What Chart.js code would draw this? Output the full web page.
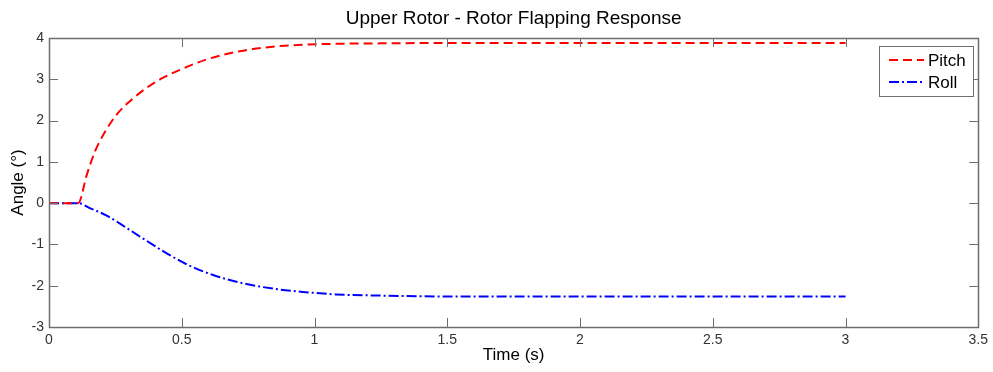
<!DOCTYPE html>
<html>
<head>
<meta charset="utf-8">
<script src="https://cdn.jsdelivr.net/npm/chart.js@4/dist/chart.umd.min.js"></script>
<style>
  html, body { margin: 0; padding: 0; background: #fff; }
  #wrap { width: 993px; height: 372px; position: relative; }
</style>
</head>
<body>
<div id="wrap"><canvas id="myChart"></canvas></div>
<script>
// values
const chartTitle = 'Upper Rotor - Rotor Flapping Response'
const xTicks = [0, 0.5, 1, 1.5, 2, 2.5, 3, 3.5]
const yTicks = [-3, -2, -1, 0, 1, 2, 3, 4]

const pitchTime = [0, 0.05, 0.11, 0.142, 0.173, 0.204, 0.254, 0.305, 0.367, 0.43, 0.505, 0.593, 0.718, 0.843, 0.969, 1.08, 1.25, 1.5, 2, 2.5, 3]
const pitchAngle = [0, 0, 0, 0.68, 1.25, 1.65, 2.14, 2.47, 2.79, 3.04, 3.26, 3.48, 3.68, 3.79, 3.84, 3.86, 3.87, 3.88, 3.88, 3.88, 3.88]

const rollTime = [0, 0.05, 0.11, 0.154, 0.217, 0.292, 0.367, 0.442, 0.518, 0.618, 0.73, 0.843, 0.956, 1.08, 1.25, 1.5, 2, 2.5, 3]
const rollAngle = [0, 0, 0, -0.12, -0.3, -0.6, -0.91, -1.21, -1.48, -1.74, -1.94, -2.07, -2.15, -2.21, -2.24, -2.26, -2.26, -2.26, -2.26]

const toPoints = (xs, ys) => xs.map((x, i) => ({ x: x, y: ys[i] }))

const axisColor = '#6e6e6e'
const fontFamily = 'Arial, "Liberation Sans", Helvetica, sans-serif'

// box, inward ticks, title and legend like the matlab figure
const matlabFrame = {
    id: 'matlabFrame',
    afterDatasetsDraw(chart) {
        const ctx = chart.ctx
        const a = chart.chartArea
        const xs = chart.scales.x
        const ys = chart.scales.y
        const len = 9
        ctx.save()
        ctx.strokeStyle = axisColor
        ctx.lineWidth = 1
        ctx.beginPath()
        xTicks.forEach(v => {
            const px = Math.round(xs.getPixelForValue(v)) + 0.5
            ctx.moveTo(px, a.bottom); ctx.lineTo(px, a.bottom - len)
            ctx.moveTo(px, a.top); ctx.lineTo(px, a.top + len)
        })
        yTicks.forEach(v => {
            const py = Math.round(ys.getPixelForValue(v)) + 0.5
            ctx.moveTo(a.left, py); ctx.lineTo(a.left + len, py)
            ctx.moveTo(a.right, py); ctx.lineTo(a.right - len, py)
        })
        ctx.stroke()
        ctx.lineWidth = 1.5
        ctx.strokeRect(Math.round(a.left) + 0.5, Math.round(a.top) + 0.5, Math.round(a.right - a.left), Math.round(a.bottom - a.top))

        // title
        ctx.fillStyle = '#000'
        ctx.font = '19px ' + fontFamily
        ctx.textAlign = 'center'
        ctx.textBaseline = 'middle'
        ctx.fillText(chartTitle, (a.left + a.right) / 2, 19)

        // legend
        const lx = 879, ly = 46, lw = 94, lh = 50
        ctx.fillStyle = '#fff'
        ctx.fillRect(lx, ly, lw, lh)
        ctx.strokeStyle = axisColor
        ctx.lineWidth = 1
        ctx.strokeRect(lx + 0.5, ly + 0.5, lw, lh)
        ctx.font = '17px ' + fontFamily
        ctx.textAlign = 'left'
        chart.data.datasets.forEach((ds, i) => {
            const cy = ly + 14 + i * 22
            ctx.strokeStyle = ds.borderColor
            ctx.lineWidth = 2
            ctx.setLineDash(ds.borderDash)
            ctx.beginPath()
            ctx.moveTo(889, cy)
            ctx.lineTo(924, cy)
            ctx.stroke()
            ctx.setLineDash([])
            ctx.fillStyle = '#000'
            ctx.fillText(ds.label, 928, cy + 1)
        })
        ctx.restore()
    }
}

const myChart = new Chart(
    document.getElementById('myChart'),
    {
        type: 'line',
        data: {
            datasets: [
                {
                    label: 'Pitch',
                    data: toPoints(pitchTime, pitchAngle),
                    borderColor: '#ff0000',
                    borderWidth: 2,
                    borderDash: [9, 5],
                    pointRadius: 0,
                    cubicInterpolationMode: 'monotone',
                    fill: false
                },
                {
                    label: 'Roll',
                    data: toPoints(rollTime, rollAngle),
                    borderColor: '#0000ff',
                    borderWidth: 2,
                    borderDash: [10, 3, 2, 3],
                    pointRadius: 0,
                    cubicInterpolationMode: 'monotone',
                    fill: false
                }
            ]
        },
        options: {
            responsive: true,
            maintainAspectRatio: false,
            animation: false,
            layout: { padding: { top: 38, right: 13, left: 0, bottom: 0 } },
            plugins: {
                legend: { display: false },
                title: { display: false },
                tooltip: { enabled: false }
            },
            scales: {
                x: {
                    type: 'linear',
                    min: 0,
                    max: 3.5,
                    afterBuildTicks: (scale) => { scale.ticks = xTicks.map(v => ({ value: v })) },
                    afterFit: (scale) => { scale.height = 45 },
                    grid: { display: false, drawTicks: false },
                    border: { display: false },
                    ticks: {
                        color: '#333',
                        padding: 5,
                        maxRotation: 0,
                        callback: (v) => String(v),
                        font: { family: fontFamily, size: 14 }
                    },
                    title: {
                        display: true,
                        text: 'Time (s)',
                        color: '#000',
                        padding: { top: 0, bottom: 6 },
                        font: { family: fontFamily, size: 17 }
                    }
                },
                y: {
                    type: 'linear',
                    min: -3,
                    max: 4,
                    afterBuildTicks: (scale) => { scale.ticks = yTicks.map(v => ({ value: v })) },
                    afterFit: (scale) => { scale.width = 49 },
                    grid: { display: false, drawTicks: false },
                    border: { display: false },
                    ticks: {
                        color: '#333',
                        padding: 5,
                        callback: (v) => String(v),
                        font: { family: fontFamily, size: 14 }
                    },
                    title: {
                        display: true,
                        text: 'Angle (°)',
                        color: '#000',
                        padding: { top: 8, bottom: 0 },
                        font: { family: fontFamily, size: 17 }
                    }
                }
            }
        },
        plugins: [matlabFrame]
    });
</script>
</body>
</html>
